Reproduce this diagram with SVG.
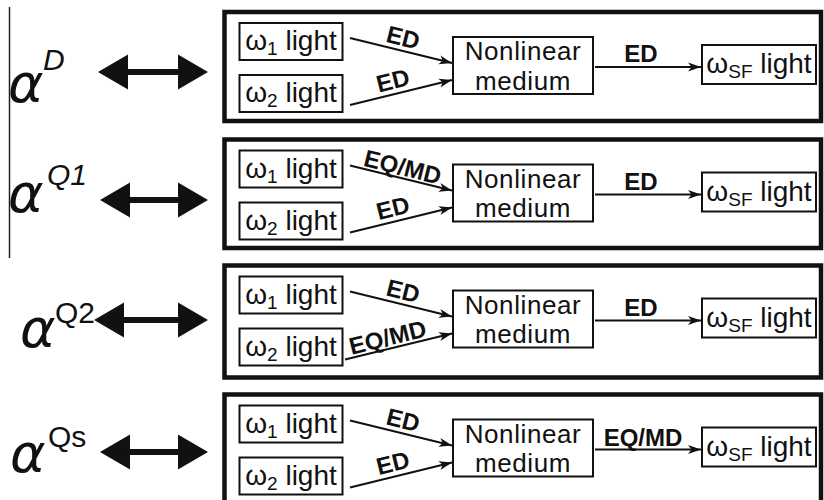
<svg xmlns="http://www.w3.org/2000/svg" width="824" height="500" viewBox="0 0 824 500">
<style>
text{font-family:"Liberation Sans",Arial,sans-serif;fill:#111}
.panel{fill:none;stroke:#111;stroke-width:4.5}
.box{fill:#fff;stroke:#111;stroke-width:2}
.arr{stroke:#111;stroke-width:2;fill:none;marker-end:url(#ah)}
.lt{font-size:28px;text-anchor:middle}
.nl{font-size:26px;letter-spacing:0.6px;text-anchor:middle}
.sub{font-size:19px}
.lab{font-size:24px;font-weight:bold;text-anchor:middle}
.alpha{font-family:"DejaVu Sans",sans-serif;font-style:italic;font-size:54px}
.sup{font-size:30px}
.dbl{fill:#111}
</style>
<defs>
<marker id="ah" markerUnits="userSpaceOnUse" markerWidth="14" markerHeight="10" refX="13" refY="5" orient="auto">
<path d="M0,0.5 L13,5 L0,9.5 L3.5,5 z" fill="#111"/>
</marker>
</defs>

<line x1="9.5" y1="7" x2="9.5" y2="258" stroke="#222" stroke-width="1.5"/>

<g id="labels">
<g id="label-D"><text class="alpha" x="8" y="102">α</text><text class="sup" x="43" y="70" font-style="italic">D</text></g>
<g id="label-Q1"><text class="alpha" x="8" y="212">α</text><text class="sup" x="47" y="185" font-style="italic">Q1</text></g>
<g id="label-Q2"><text class="alpha" x="20" y="347">α</text><text class="sup" x="55" y="323">Q2</text></g>
<g id="label-Qs"><text class="alpha" x="10" y="472">α</text><text class="sup" x="48" y="447">Qs</text></g>
</g>

<g id="double-arrows">
<polygon class="dbl" points="98,72 128,54.5 128,69 178,69 178,54.5 208,72 178,89.5 178,75 128,75 128,89.5"/>
<polygon class="dbl" points="100,200 130,182.5 130,197 178,197 178,182.5 208,200 178,217.5 178,203 130,203 130,217.5"/>
<polygon class="dbl" points="94,320 124,302.5 124,317 178,317 178,302.5 208,320 178,337.5 178,323 124,323 124,337.5"/>
<polygon class="dbl" points="100,452 130,434.5 130,449 178,449 178,434.5 208,452 178,469.5 178,455 130,455 130,469.5"/>
</g>

<!-- Panel 1 -->
<g id="panel-D" transform="translate(0,12)">
<rect class="panel" x="224.5" y="0" width="596.5" height="109"/>
<g id="p1-w1"><rect class="box" x="239.5" y="11" width="103" height="37"/><text class="lt" x="291" y="38">ω<tspan class="sub" dy="5">1</tspan><tspan dy="-5"> light</tspan></text></g>
<g id="p1-w2"><rect class="box" x="239.5" y="63" width="103" height="37"/><text class="lt" x="291" y="90">ω<tspan class="sub" dy="5">2</tspan><tspan dy="-5"> light</tspan></text></g>
<g id="p1-nl"><rect class="box" x="453" y="25" width="140" height="57"/><text class="nl" x="523" y="48">Nonlinear<tspan x="523" dy="29.5">medium</tspan></text></g>
<g id="p1-sf"><rect class="box" x="702" y="33" width="114" height="39"/><text class="lt" x="759" y="61">ω<tspan class="sub" dy="5">SF</tspan><tspan dy="-5"> light</tspan></text></g>
<g id="p1-connectors">
<line class="arr" x1="350" y1="26" x2="452" y2="51"/>
<line class="arr" x1="350" y1="93" x2="452" y2="68"/>
<line class="arr" x1="595" y1="55" x2="701" y2="55"/>
<text class="lab" transform="translate(400,38.5) rotate(14.04)" x="0" y="-5">ED</text>
<text class="lab" transform="translate(400,80.5) rotate(-14.04)" x="-4" y="-5">ED</text>
<text class="lab" x="641" y="50">ED</text>
</g>
</g>

<!-- Panel 2 -->
<g id="panel-Q1" transform="translate(0,139.5)">
<rect class="panel" x="224.5" y="0" width="596.5" height="108.5"/>
<g id="p2-w1"><rect class="box" x="239.5" y="11" width="103" height="37"/><text class="lt" x="291" y="38">ω<tspan class="sub" dy="5">1</tspan><tspan dy="-5"> light</tspan></text></g>
<g id="p2-w2"><rect class="box" x="239.5" y="63" width="103" height="37"/><text class="lt" x="291" y="90">ω<tspan class="sub" dy="5">2</tspan><tspan dy="-5"> light</tspan></text></g>
<g id="p2-nl"><rect class="box" x="453" y="25" width="140" height="57"/><text class="nl" x="523" y="48">Nonlinear<tspan x="523" dy="29.5">medium</tspan></text></g>
<g id="p2-sf"><rect class="box" x="702" y="33" width="114" height="39"/><text class="lt" x="759" y="61">ω<tspan class="sub" dy="5">SF</tspan><tspan dy="-5"> light</tspan></text></g>
<g id="p2-connectors">
<line class="arr" x1="350" y1="26" x2="452" y2="51"/>
<line class="arr" x1="350" y1="93" x2="452" y2="68"/>
<line class="arr" x1="595" y1="55" x2="701" y2="55"/>
<text class="lab" transform="translate(400,38.5) rotate(14.04)" x="0" y="-3">EQ/MD</text>
<text class="lab" transform="translate(400,80.5) rotate(-14.04)" x="-4" y="-5">ED</text>
<text class="lab" x="641" y="50">ED</text>
</g>
</g>

<!-- Panel 3 -->
<g id="panel-Q2" transform="translate(0,265.5)">
<rect class="panel" x="224.5" y="0" width="596.5" height="112"/>
<g id="p3-w1"><rect class="box" x="239.5" y="11" width="103" height="37"/><text class="lt" x="291" y="38">ω<tspan class="sub" dy="5">1</tspan><tspan dy="-5"> light</tspan></text></g>
<g id="p3-w2"><rect class="box" x="239.5" y="63" width="103" height="37"/><text class="lt" x="291" y="90">ω<tspan class="sub" dy="5">2</tspan><tspan dy="-5"> light</tspan></text></g>
<g id="p3-nl"><rect class="box" x="453" y="25" width="140" height="57"/><text class="nl" x="523" y="48">Nonlinear<tspan x="523" dy="29.5">medium</tspan></text></g>
<g id="p3-sf"><rect class="box" x="702" y="33" width="114" height="39"/><text class="lt" x="759" y="61">ω<tspan class="sub" dy="5">SF</tspan><tspan dy="-5"> light</tspan></text></g>
<g id="p3-connectors">
<line class="arr" x1="350" y1="26" x2="452" y2="51"/>
<line class="arr" x1="345" y1="94" x2="452" y2="68"/>
<text class="lab" transform="translate(400,38.5) rotate(14.04)" x="0" y="-5">ED</text>
<text class="lab" transform="translate(400,80.5) rotate(-14.04)" x="-10" y="-3">EQ/MD</text>
<line class="arr" x1="595" y1="55" x2="701" y2="55"/>
<text class="lab" x="641" y="50">ED</text>
</g>
</g>

<!-- Panel 4 -->
<g id="panel-Qs" transform="translate(0,394.5)">
<rect class="panel" x="224.5" y="0" width="596.5" height="115"/>
<g id="p4-w1"><rect class="box" x="239.5" y="11" width="103" height="37"/><text class="lt" x="291" y="38">ω<tspan class="sub" dy="5">1</tspan><tspan dy="-5"> light</tspan></text></g>
<g id="p4-w2"><rect class="box" x="239.5" y="63" width="103" height="37"/><text class="lt" x="291" y="90">ω<tspan class="sub" dy="5">2</tspan><tspan dy="-5"> light</tspan></text></g>
<g id="p4-nl"><rect class="box" x="453" y="25" width="140" height="57"/><text class="nl" x="523" y="48">Nonlinear<tspan x="523" dy="29.5">medium</tspan></text></g>
<g id="p4-sf"><rect class="box" x="702" y="33" width="114" height="39"/><text class="lt" x="759" y="61">ω<tspan class="sub" dy="5">SF</tspan><tspan dy="-5"> light</tspan></text></g>
<g id="p4-connectors">
<line class="arr" x1="350" y1="26" x2="452" y2="51"/>
<line class="arr" x1="350" y1="93" x2="452" y2="68"/>
<line class="arr" x1="595" y1="55" x2="701" y2="55"/>
<text class="lab" transform="translate(400,38.5) rotate(14.04)" x="0" y="-5">ED</text>
<text class="lab" transform="translate(400,80.5) rotate(-14.04)" x="-4" y="-5">ED</text>
<text class="lab" x="643" y="51">EQ/MD</text>
</g>
</g>
</svg>
